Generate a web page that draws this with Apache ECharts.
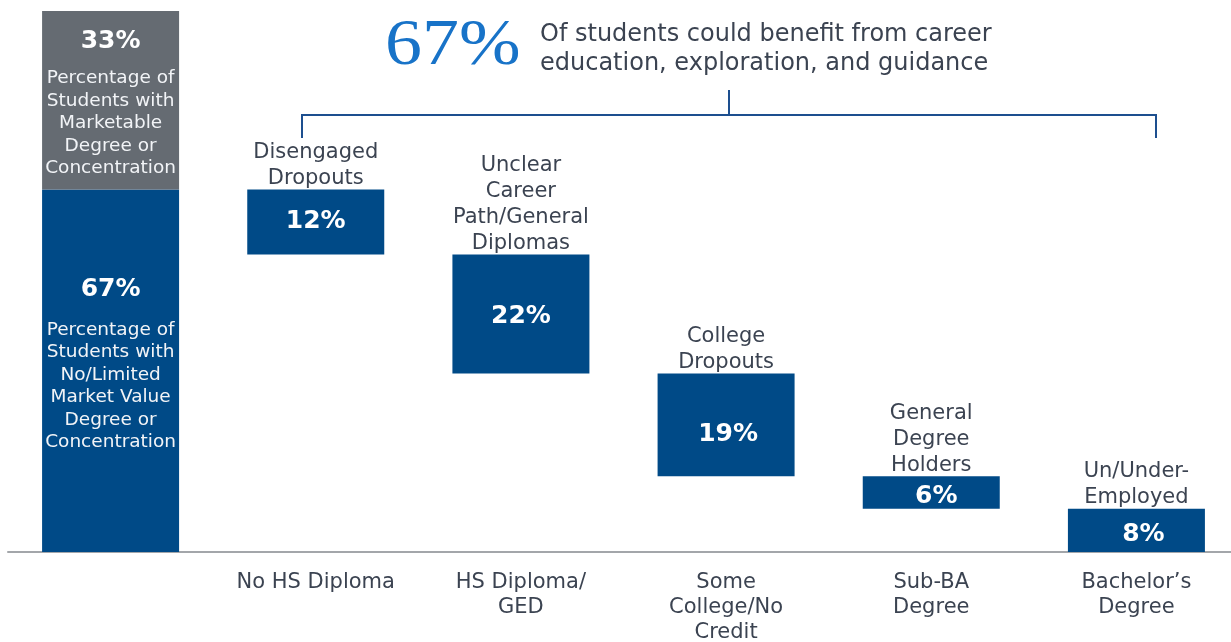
<!DOCTYPE html>
<html>
<head>
<meta charset="utf-8">
<script src="https://cdn.jsdelivr.net/npm/echarts@6/dist/echarts.min.js"></script>
<style>
  html, body { margin: 0; padding: 0; background: #ffffff; }
  #chart { width: 1231px; height: 642px; }
</style>
</head>
<body>
<div id="chart"></div>
<script>
// Education attainment categories (first slot holds the summary column)
const categories = ['', 'No HS Diploma', 'HS Diploma/\nGED', 'Some\nCollege/No\nCredit', 'Sub-BA\nDegree', 'Bachelor\u2019s\nDegree'];
// Share of students in each segment (%)
const segmentValues = [12, 22, 19, 6, 8];
const segmentNames = ['Disengaged\nDropouts', 'Unclear\nCareer\nPath/General\nDiplomas', 'College\nDropouts', 'General\nDegree\nHolders', 'Un/Under-\nEmployed'];
// Summary column
const limitedValue = 67;
const marketableValue = 33;
const limitedText = 'Percentage of\nStudents with\nNo/Limited\nMarket Value\nDegree or\nConcentration';
const marketableText = 'Percentage of\nStudents with\nMarketable\nDegree or\nConcentration';
const headlineValue = '67%';
const headlineText = 'Of students could benefit from career\neducation, exploration, and guidance';

const BLUE = '#004a87';
const GREY = '#656b72';
const TEXT = '#3b4351';
const FONT = '"DejaVu Sans", Verdana, sans-serif';
// small nudges for the in-bar percentage labels
const valueLabelShift = [[0, 0], [0, 3], [2, 10], [5, 4], [7, 4]];

// Waterfall: each segment hangs below the previous one, starting at the 67% total
const offsets = [0];
const tops = [null];
let running = limitedValue;
segmentValues.forEach(v => {
  tops.push(running);
  running -= v;
  offsets.push(running);
});

function summaryRich(gap) {
  return {
    v: { fontFamily: FONT, fontSize: 25, fontWeight: 'bold', color: '#fff', lineHeight: 30, align: 'center', padding: [0, 0, gap, 0] },
    d: { fontFamily: FONT, fontSize: 18.5, fontWeight: 'normal', color: '#f2f4f7', lineHeight: 22.5, align: 'center' }
  };
}

const mainData = [{
  value: limitedValue,
  label: {
    position: 'insideTop',
    distance: 99,
    formatter: '{v|' + limitedValue + '%}\n{d|' + limitedText + '}',
    rich: summaryRich(29)
  }
}].concat(segmentValues.map((v, i) => ({ value: v, label: { offset: valueLabelShift[i] } })));

const topData = [{
  value: marketableValue,
  label: {
    show: true,
    position: 'insideTop',
    distance: 26,
    formatter: '{v|' + marketableValue + '%}\n{d|' + marketableText + '}',
    rich: summaryRich(22)
  }
}, '-', '-', '-', '-', '-'];

const chart = echarts.init(document.getElementById('chart'));
chart.setOption({
  animation: false,
  grid: { left: 8, width: 1231, top: 11, bottom: 90, outerBoundsMode: 'none' },
  xAxis: {
    type: 'category',
    data: categories,
    axisLine: { lineStyle: { color: '#a3a6aa', width: 2 } },
    axisTick: { show: false },
    axisLabel: { color: TEXT, fontFamily: FONT, fontSize: 21, lineHeight: 25, margin: 18, interval: 0 }
  },
  yAxis: { type: 'value', min: 0, max: 100, show: false },
  series: [
    {
      type: 'bar', stack: 'w', barWidth: 137,
      itemStyle: { color: 'transparent' },
      data: offsets, silent: true
    },
    {
      type: 'bar', stack: 'w', barWidth: 137,
      itemStyle: { color: BLUE },
      label: {
        show: true, position: 'inside',
        formatter: p => p.value + '%',
        fontFamily: FONT, fontSize: 25, fontWeight: 'bold', color: '#fff'
      },
      data: mainData
    },
    {
      type: 'bar', stack: 'w', barWidth: 137,
      itemStyle: { color: GREY },
      data: topData
    },
    {
      // segment names sit just above each hanging bar
      type: 'scatter', symbolSize: 0, silent: true,
      itemStyle: { opacity: 1 },
      data: tops,
      label: {
        show: true, position: 'top', distance: -2,
        formatter: p => segmentNames[p.dataIndex - 1],
        fontFamily: FONT, fontSize: 21, lineHeight: 26, color: TEXT, align: 'center'
      }
    }
  ],
  graphic: [
    { type: 'text', left: 385, top: 14, scaleX: 1.12,
      style: { text: headlineValue, font: '66px "Liberation Serif", serif', fill: '#1873c8' } },
    { type: 'text', left: 540, top: 20,
      style: { text: headlineText, font: '24px ' + FONT, fill: TEXT, lineHeight: 29 } },
    // bracket spanning the five hanging segments
    { type: 'polyline', shape: { points: [[302, 138], [302, 115], [1156, 115], [1156, 138]] },
      style: { stroke: '#1d4f8f', lineWidth: 2, fill: null } },
    { type: 'line', shape: { x1: 729, y1: 90, x2: 729, y2: 115 },
      style: { stroke: '#1d4f8f', lineWidth: 2 } }
  ]
});
</script>
</body>
</html>
